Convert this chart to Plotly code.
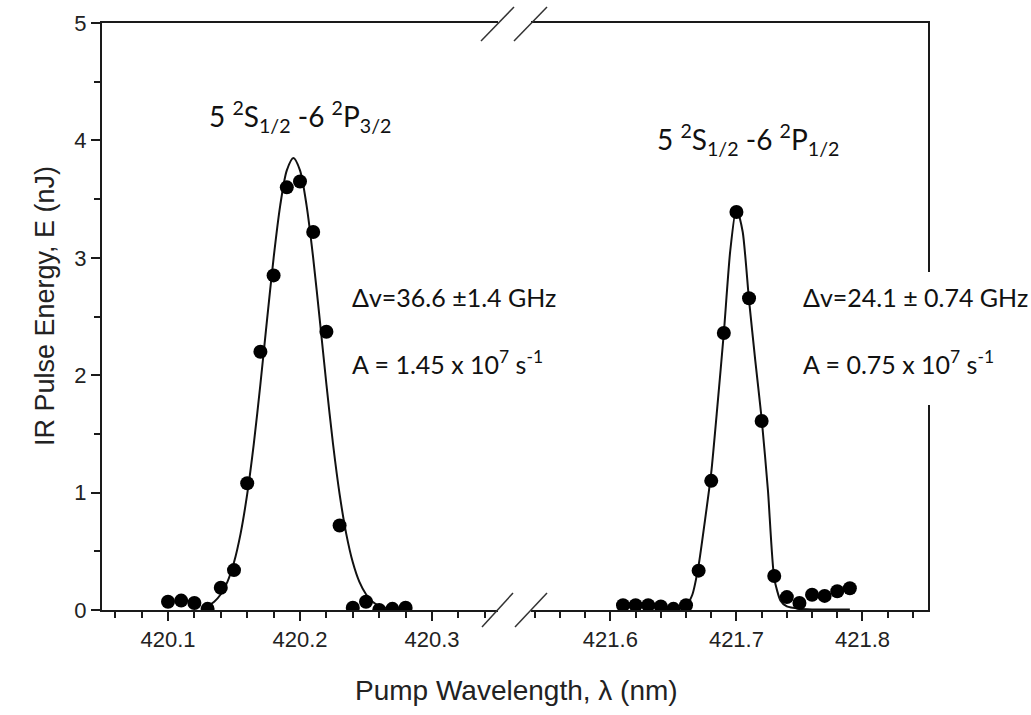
import plotly.graph_objects as go

# ---------------- data ----------------
# Left band: 5 2S1/2 - 6 2P3/2
wl_left = [420.10, 420.11, 420.12, 420.13, 420.14, 420.15, 420.16, 420.17, 420.18, 420.19,
           420.20, 420.21, 420.22, 420.23, 420.24, 420.25, 420.26, 420.27, 420.28]
e_left = [0.07, 0.08, 0.06, 0.01, 0.19, 0.34, 1.08, 2.20, 2.85, 3.60,
          3.65, 3.22, 2.37, 0.72, 0.02, 0.07, 0.00, 0.01, 0.02]

fit_left_x = [420.125, 420.130, 420.135, 420.140, 420.145, 420.150, 420.155, 420.160, 420.165, 420.170,
              420.175, 420.180, 420.185, 420.190, 420.195, 420.200, 420.205, 420.210, 420.215, 420.220,
              420.225, 420.230, 420.235, 420.240, 420.245, 420.250, 420.255, 420.260, 420.265]
fit_left_y = [0.017, 0.035, 0.071, 0.134, 0.239, 0.406, 0.651, 0.987, 1.416, 1.923,
              2.469, 2.998, 3.445, 3.745, 3.850, 3.745, 3.445, 2.998, 2.469, 1.923,
              1.416, 0.987, 0.651, 0.406, 0.239, 0.134, 0.071, 0.035, 0.017]

# Right band: 5 2S1/2 - 6 2P1/2
wl_right = [421.61, 421.62, 421.63, 421.64, 421.65, 421.66, 421.67, 421.68, 421.69, 421.70,
            421.71, 421.72, 421.73, 421.74, 421.75, 421.76, 421.77, 421.78, 421.79]
e_right = [0.04, 0.04, 0.04, 0.03, 0.01, 0.04, 0.335, 1.10, 2.36, 3.39,
           2.655, 1.61, 0.29, 0.11, 0.06, 0.13, 0.12, 0.16, 0.185]

fit_right_x = [421.655, 421.660, 421.665, 421.670, 421.675, 421.680, 421.685, 421.690, 421.695, 421.700,
               421.705, 421.710, 421.715, 421.720, 421.725, 421.730, 421.735, 421.740, 421.750, 421.760,
               421.770, 421.780, 421.790]
fit_right_y = [0.01, 0.03, 0.13, 0.38, 0.76, 1.17, 1.75, 2.36, 3.05, 3.43,
               3.22, 2.64, 2.12, 1.63, 1.02, 0.27, 0.08, 0.03, 0.01, 0.005,
               0.005, 0.005, 0.005]

y_ticks = [0, 1, 2, 3, 4, 5]
x_ticks_left = [420.1, 420.2, 420.3]
x_ticks_right = [421.6, 421.7, 421.8]

label_left = "5 <sup>2</sup>S<sub>1/2</sub> -6 <sup>2</sup>P<sub>3/2</sub>"
label_right = "5 <sup>2</sup>S<sub>1/2</sub> -6 <sup>2</sup>P<sub>1/2</sub>"
dv_left = "\u0394v=36.6 \u00b11.4 GHz"
a_left = "A = 1.45 x 10<sup>7</sup> s<sup>-1</sup>"
dv_right = "\u0394v=24.1 \u00b1 0.74 GHz"
a_right = "A = 0.75 x 10<sup>7</sup> s<sup>-1</sup>"
x_title = "Pump Wavelength, \u03bb (nm)"
y_title = "IR Pulse Energy, E (nJ)"

# ---------------- layout helpers ----------------
W, H = 1031, 715
L, R, T, B = 102, 928, 23, 610


def px(x):
    return (x - L) / (R - L)


def py(y):
    return (B - y) / (B - T)


AX = "#1a1a1a"
ARIAL = "Liberation Sans, Arial, sans-serif"
TICKFONT = dict(family=ARIAL, size=22, color="#222")
ANNFONT = dict(family="Lato, Carlito, sans-serif", size=25, color="#111")
LABELFONT = dict(family="Lato, Carlito, sans-serif", size=28, color="#111")

fig = go.Figure()

fig.add_trace(go.Scatter(x=fit_left_x, y=fit_left_y, mode="lines",
                         line=dict(color="#111", width=2, shape="spline", smoothing=0.8),
                         xaxis="x", yaxis="y", showlegend=False, hoverinfo="skip"))
fig.add_trace(go.Scatter(x=wl_left, y=e_left, mode="markers",
                         marker=dict(color="black", size=14),
                         xaxis="x", yaxis="y", showlegend=False))
fig.add_trace(go.Scatter(x=fit_right_x, y=fit_right_y, mode="lines",
                         line=dict(color="#111", width=2, shape="spline", smoothing=0.6),
                         xaxis="x2", yaxis="y2", showlegend=False, hoverinfo="skip"))
fig.add_trace(go.Scatter(x=wl_right, y=e_right, mode="markers",
                         marker=dict(color="black", size=14),
                         xaxis="x2", yaxis="y2", showlegend=False))

xcommon = dict(showgrid=False, zeroline=False, showline=True, linecolor=AX, linewidth=2,
               mirror=True, ticks="outside", ticklen=9, tickwidth=1.5, tickcolor=AX,
               tickfont=TICKFONT,
               minor=dict(dtick=0.02, ticks="outside", ticklen=6, tickwidth=1.5, tickcolor=AX))

fig.update_layout(
    width=W, height=H, autosize=False,
    margin=dict(l=L, r=W - R, t=T, b=H - B, pad=0),
    paper_bgcolor="white", plot_bgcolor="white",
    xaxis=dict(domain=[0, px(498)], range=[420.05, 420.35], tickvals=x_ticks_left,
               ticktext=[f"{v:.1f}" for v in x_ticks_left], anchor="y", **xcommon),
    xaxis2=dict(domain=[px(531), 1], range=[421.537, 421.852], tickvals=x_ticks_right,
                ticktext=[f"{v:.1f}" for v in x_ticks_right], anchor="y2", **xcommon),
    yaxis=dict(range=[0, 5], tickvals=y_ticks, ticktext=[str(v) for v in y_ticks],
               showgrid=False, zeroline=False, showline=True, linecolor=AX, linewidth=2,
               ticks="outside", ticklen=9, tickwidth=1.5, tickcolor=AX, tickfont=TICKFONT,
               minor=dict(dtick=0.5, ticks="outside", ticklen=6, tickwidth=1.5, tickcolor=AX),
               anchor="x"),
    yaxis2=dict(range=[0, 5], showgrid=False, zeroline=False, showline=True, linecolor=AX,
                linewidth=2, side="right", showticklabels=False, ticks="", anchor="x2"),
)

shapes = []
# white patch behind right-hand annotation (covers the frame there)
shapes.append(dict(type="rect", xref="paper", yref="paper", x0=px(787), x1=px(1031),
                   y0=py(405), y1=py(272), fillcolor="white", line=dict(width=0), layer="above"))
# axis-break marks
for (x0, y0, x1, y1) in [(482, 627, 513, 593), (515, 627, 547, 593),
                         (481, 41, 514, 7), (514, 41, 547, 7)]:
    shapes.append(dict(type="line", xref="paper", yref="paper", x0=px(x0), y0=py(y0),
                       x1=px(x1), y1=py(y1), line=dict(color="#333", width=1.5), layer="above"))
fig.update_layout(shapes=shapes)

ann = []
ann.append(dict(text=label_left, x=px(207), y=py(116), xanchor="left", yanchor="middle", font=LABELFONT))
ann.append(dict(text=label_right, x=px(655), y=py(139), xanchor="left", yanchor="middle", font=LABELFONT))
ann.append(dict(text=dv_left, x=px(350), y=py(297), xanchor="left", yanchor="middle", font=ANNFONT))
ann.append(dict(text=a_left, x=px(350), y=py(362), xanchor="left", yanchor="middle", font=ANNFONT))
ann.append(dict(text=dv_right, x=px(801), y=py(297), xanchor="left", yanchor="middle", font=ANNFONT))
ann.append(dict(text=a_right, x=px(801), y=py(362), xanchor="left", yanchor="middle", font=ANNFONT))
for a in ann:
    a.update(xref="paper", yref="paper", showarrow=False)

# axis titles
ann.append(dict(text=x_title, x=px(516), y=py(690), xref="paper", yref="paper",
                xanchor="center", yanchor="middle", showarrow=False,
                font=dict(family=ARIAL, size=28, color="#222")))
ann.append(dict(text=y_title, x=px(45), y=py(306), xref="paper", yref="paper",
                xanchor="center", yanchor="middle", showarrow=False, textangle=-90,
                font=dict(family=ARIAL, size=27, color="#222")))
fig.update_layout(annotations=ann)

fig.write_html("out.html", config={"displayModeBar": False},
               post_script="document.body.style.margin='0';document.body.style.overflow='hidden';")
